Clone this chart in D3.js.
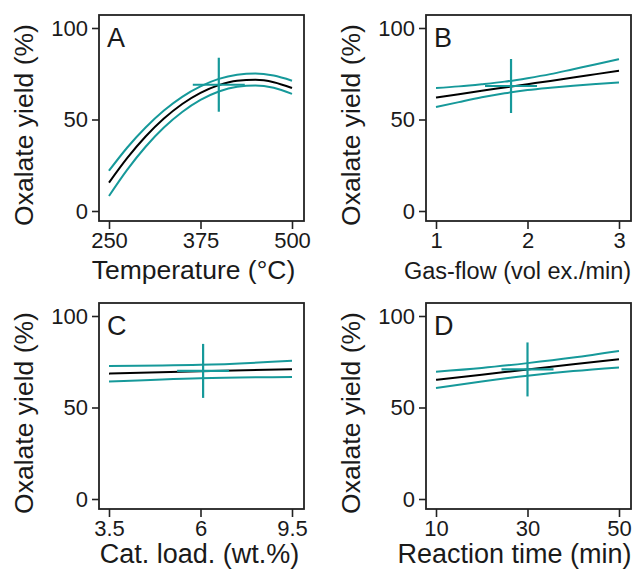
<!DOCTYPE html>
<html>
<head>
<meta charset="utf-8">
<script src="https://cdn.jsdelivr.net/npm/d3@7"></script>
<style>
  html, body { margin: 0; padding: 0; background: #ffffff; }
  svg { display: block; }
  text { font-family: "Liberation Sans", Arial, Helvetica, sans-serif; fill: #1a1a1a; }
</style>
</head>
<body>
<svg id="chart" width="636" height="571"></svg>
<script>
// ---------------- data ----------------
const yTicks = [0, 50, 100];
const yTickLabels = ["0", "50", "100"];
const yTitle = "Oxalate yield (%)";

// Panel A: Temperature
const tempX      = [250, 275, 300, 325, 350, 375, 400, 425, 450, 475, 500];
const tempMean   = [15.5, 29.0, 40.7, 50.5, 58.5, 64.6, 68.8, 71.2, 71.7, 70.4, 67.2];
const tempUpper  = [22.0, 34.7, 45.6, 54.9, 62.4, 68.1, 72.2, 74.5, 75.2, 74.0, 71.2];
const tempLower  = [8.2, 22.6, 35.1, 45.6, 54.1, 60.7, 65.3, 67.9, 68.6, 67.3, 64.0];
const tempTicks  = [250, 375, 500];
const tempTickLabels = ["250", "375", "500"];
const tempSetting = [400, 69.0];

// Panel B: Gas-flow
const gasX     = [1, 1.25, 1.5, 1.75, 2, 2.25, 2.5, 2.75, 3];
const gasMean  = [62.0, 63.8, 65.7, 67.5, 69.3, 71.1, 73.0, 74.8, 76.6];
const gasUpper = [67.2, 68.1, 69.3, 70.7, 72.6, 74.8, 77.5, 80.2, 83.0];
const gasLower = [56.8, 59.5, 62.1, 64.3, 66.1, 67.4, 68.5, 69.4, 70.2];
const gasTicks = [1, 2, 3];
const gasTickLabels = ["1", "2", "3"];
const gasSetting = [1.82, 68.3];

// Panel C: Catalyst loading
const catX     = [3.5, 6, 9.5];
const catMean  = [68.5, 69.8, 70.9];
const catUpper = [72.7, 73.3, 75.5];
const catLower = [64.2, 66.0, 66.7];
const catTicks = [3.5, 6, 9.5];
const catTickLabels = ["3.5", "6", "9.5"];
const catSetting = [6.1, 70.0];

// Panel D: Reaction time
const timeX     = [10, 20, 30, 40, 50];
const timeMean  = [65.1, 67.9, 70.8, 73.6, 76.4];
const timeUpper = [69.6, 71.6, 74.25, 77.3, 80.9];
const timeLower = [60.6, 64.2, 67.35, 69.9, 71.9];
const timeTicks = [10, 30, 50];
const timeTickLabels = ["10", "30", "50"];
const timeSetting = [30, 70.8];

const panels = [
  {letter: "A", title: "Temperature (°C)", titleSize: 26.5, titleDx: -8, x: tempX, mean: tempMean, upper: tempUpper, lower: tempLower,
   ticks: tempTicks, tickLabels: tempTickLabels, setting: tempSetting, col: 0, row: 0},
  {letter: "B", title: "Gas-flow (vol ex./min)", titleSize: 23.5, titleDx: -11, x: gasX, mean: gasMean, upper: gasUpper, lower: gasLower,
   ticks: gasTicks, tickLabels: gasTickLabels, setting: gasSetting, col: 1, row: 0},
  {letter: "C", title: "Cat. load. (wt.%)", titleSize: 27, titleDx: -2, x: catX, mean: catMean, upper: catUpper, lower: catLower,
   ticks: catTicks, tickLabels: catTickLabels, setting: catSetting, col: 0, row: 1},
  {letter: "D", title: "Reaction time (min)", titleSize: 27, titleDx: -14, x: timeX, mean: timeMean, upper: timeUpper, lower: timeLower,
   ticks: timeTicks, tickLabels: timeTickLabels, setting: timeSetting, col: 1, row: 1}
];

// ---------------- layout ----------------
const colLeft = [99, 426];
const rowTop = [15, 303];
const titleGap = [58, 54];
const boxW = 205, boxH = 206;
const teal = "#16999a";
const svg = d3.select("#chart");

svg.append("rect").attr("width", 636).attr("height", 571).attr("fill", "#fff");

panels.forEach(p => {
  const L = colLeft[p.col], T = rowTop[p.row];
  const R = L + boxW, B = T + boxH;
  const g = svg.append("g");

  const x = d3.scaleLinear()
    .domain(p.ticks)
    .range(p.ticks.length === 3 ? [L + 10, L + 10 + (boxW - 22) / 2, R - 12] : [L + 10, R - 12]);
  const y = d3.scaleLinear().domain([0, 100]).range([B - 10, T + 13]);

  // axes
  const yAxis = d3.axisLeft(y).tickValues(yTicks).tickFormat((d, i) => yTickLabels[i]).tickSize(7).tickPadding(4);
  const gy = g.append("g").attr("transform", `translate(${L},0)`).call(yAxis);
  const xAxis = d3.axisBottom(x).tickValues(p.ticks).tickFormat((d, i) => p.tickLabels[i]).tickSize(8).tickPadding(3);
  const gx = g.append("g").attr("transform", `translate(0,${B})`).call(xAxis);
  [gy, gx].forEach(a => {
    a.select(".domain").remove();
    a.selectAll(".tick line").attr("stroke", "#222").attr("stroke-width", 1.6);
    a.selectAll(".tick text").attr("font-size", 22).attr("fill", "#1a1a1a")
      .style("font-family", '"Liberation Sans", Arial, sans-serif');
  });

  // lines
  const line = d3.line().x((d, i) => x(p.x[i])).y(d => y(d)).curve(d3.curveMonotoneX);
  g.append("path").datum(p.upper).attr("d", line).attr("fill", "none").attr("stroke", teal).attr("stroke-width", 2);
  g.append("path").datum(p.lower).attr("d", line).attr("fill", "none").attr("stroke", teal).attr("stroke-width", 2);
  g.append("path").datum(p.mean).attr("d", line).attr("fill", "none").attr("stroke", "#000").attr("stroke-width", 2);

  // crosshair
  const cx = x(p.setting[0]), cy = y(p.setting[1]);
  g.append("line").attr("x1", cx - 26).attr("x2", cx + 26).attr("y1", cy).attr("y2", cy)
    .attr("stroke", teal).attr("stroke-width", 2.2);
  g.append("line").attr("x1", cx).attr("x2", cx).attr("y1", cy - 27).attr("y2", cy + 27)
    .attr("stroke", teal).attr("stroke-width", 2.2);

  // box
  g.append("rect").attr("x", L).attr("y", T).attr("width", boxW).attr("height", boxH)
    .attr("fill", "none").attr("stroke", "#222").attr("stroke-width", 1.8);

  // panel letter
  g.append("text").attr("x", L + 8).attr("y", T + 32).attr("font-size", 27).text(p.letter);

  // x title
  g.append("text").attr("x", L + boxW / 2 + p.titleDx).attr("y", B + titleGap[p.row]).attr("text-anchor", "middle")
    .attr("font-size", p.titleSize).text(p.title);

  // y title
  g.append("text").attr("transform", `translate(${L - 66},${T + boxH / 2 + 7}) rotate(-90)`)
    .attr("text-anchor", "middle").attr("font-size", 26.5).text(yTitle);
});
</script>
</body>
</html>
